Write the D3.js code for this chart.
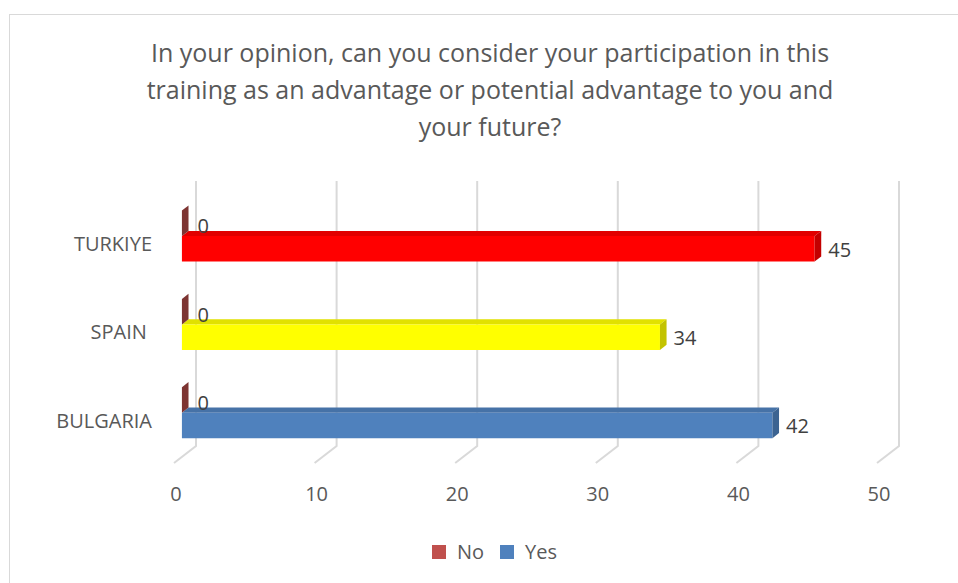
<!DOCTYPE html>
<html>
<head>
<meta charset="utf-8">
<script src="https://cdn.jsdelivr.net/npm/d3@7"></script>
<style>
  html, body { margin: 0; padding: 0; background: #fff; }
  svg { display: block; font-family: "Open Sans", sans-serif; }
</style>
</head>
<body>
<svg id="chart" width="958" height="583"></svg>
<script>
// Survey answers per country
const categories = ["TURKIYE", "SPAIN ", "BULGARIA"];
const noValues = [0, 0, 0];
const yesValues = [45, 34, 42];
const yesColors = ["#FF0000", "#FFFF00", "#4F81BD"];
const tickValues = [0, 10, 20, 30, 40, 50];
const titleLines = [
  "In your opinion, can you consider your participation in this",
  "training as an advantage or potential advantage to you and",
  "your future?"
];
const legendItems = [
  { name: "No", color: "#C0504D" },
  { name: "Yes", color: "#4F81BD" }
];

const svg = d3.select("#chart");
const W = 958, H = 583;

// chart frame
svg.append("rect")
  .attr("x", 9.5).attr("y", 14.5)
  .attr("width", W + 10).attr("height", H + 10)
  .attr("fill", "#fff").attr("stroke", "#D9D9D9").attr("stroke-width", 1);

// title
svg.append("g").selectAll("text").data(titleLines).join("text")
  .attr("x", 490).attr("y", (d, i) => 62 + i * 37)
  .attr("text-anchor", "middle")
  .attr("font-size", 25)
  .attr("fill", "#595959")
  .text(d => d);

// 3D projection: back wall scales plus a depth offset towards the viewer
const x = d3.scaleLinear().domain([0, 50]).range([196, 899]);
const y = d3.scaleBand().domain(categories).range([181, 446]);
const depthDX = -22, depthDY = 17;
const proj = (v, yy, z) => [x(v) + depthDX * z, yy + depthDY * z];
const zFront = 0.64, zBack = 0.34;
const barH = 25.5;

// gridlines on the back wall, running out across the floor
const grid = svg.append("g");
tickValues.forEach(v => {
  const top = proj(v, y.range()[0], 0);
  const bot = proj(v, y.range()[1], 0);
  const fr = proj(v, y.range()[1], 1);
  grid.append("path")
    .attr("d", d3.line()([top, bot, fr]))
    .attr("fill", "none").attr("stroke", "#D9D9D9").attr("stroke-width", 2);
});

// value axis labels along the front edge of the floor
svg.append("g").selectAll("text").data(tickValues).join("text")
  .attr("x", d => proj(d, 0, 1)[0] + 2)
  .attr("y", proj(0, y.range()[1], 1)[1] + 38)
  .attr("text-anchor", "middle")
  .attr("font-size", 20)
  .attr("fill", "#595959")
  .text(d => d);

// category labels
svg.append("g").selectAll("text").data(categories).join("text")
  .attr("x", 152)
  .attr("y", d => proj(0, y(d) + y.bandwidth() / 2, zFront)[1] + 15)
  .attr("text-anchor", "end")
  .attr("font-size", 20)
  .attr("fill", "#595959")
  .attr("xml:space", "preserve")
  .style("white-space", "pre")
  .text(d => d);

function shade(c, k) { return d3.color(c).darker(k).formatHex(); }

// one 3D bar: front face, top face and end cap
function drawBar(g, value, yTop, color, topColor, sideColor) {
  const f0 = proj(0, yTop, zFront), f1 = proj(value, yTop, zFront);
  const f2 = proj(value, yTop + barH, zFront), f3 = proj(0, yTop + barH, zFront);
  const b0 = proj(0, yTop, zBack), b1 = proj(value, yTop, zBack);
  const b2 = proj(value, yTop + barH, zBack);
  const poly = pts => "M" + pts.map(p => p.join(",")).join("L") + "Z";
  if (value > 0) {
    g.append("path").attr("d", poly([f0, f1, b1, b0])).attr("fill", topColor);
    g.append("path").attr("d", poly([f0, f1, f2, f3])).attr("fill", color);
  }
  g.append("path").attr("d", poly([f1, b1, b2, f2])).attr("fill", sideColor);
}

const bars = svg.append("g");
const labels = svg.append("g").attr("font-size", 20).attr("fill", "#404040");

categories.forEach((cat, i) => {
  const mid = y(cat) + y.bandwidth() / 2;
  const c = yesColors[i];
  // Yes bar (lower half of the band)
  drawBar(bars, yesValues[i], mid, c, shade(c, 0.35), shade(c, 0.75));
  // No bar (upper half of the band)
  const nc = legendItems[0].color;
  drawBar(bars, noValues[i], mid - barH, nc, shade(nc, 0.8), shade(nc, 1.2));

  const yEnd = proj(yesValues[i], mid + barH / 2, zFront);
  labels.append("text")
    .attr("x", proj(yesValues[i], 0, zBack)[0] + 7)
    .attr("y", yEnd[1] + 8)
    .text(yesValues[i]);
  const nEnd = proj(noValues[i], mid - barH / 2, zFront);
  labels.append("text")
    .attr("x", proj(noValues[i], 0, zBack)[0] + 9)
    .attr("y", nEnd[1] + 10)
    .text(noValues[i]);
});

// legend
const lg = svg.append("g");
const legendX = [432, 500];
legendItems.forEach((it, i) => {
  lg.append("rect").attr("x", legendX[i]).attr("y", 545)
    .attr("width", 14).attr("height", 14).attr("fill", it.color);
  lg.append("text").attr("x", legendX[i] + 25).attr("y", 559)
    .attr("font-size", 20).attr("fill", "#595959").text(it.name);
});
</script>
</body>
</html>
